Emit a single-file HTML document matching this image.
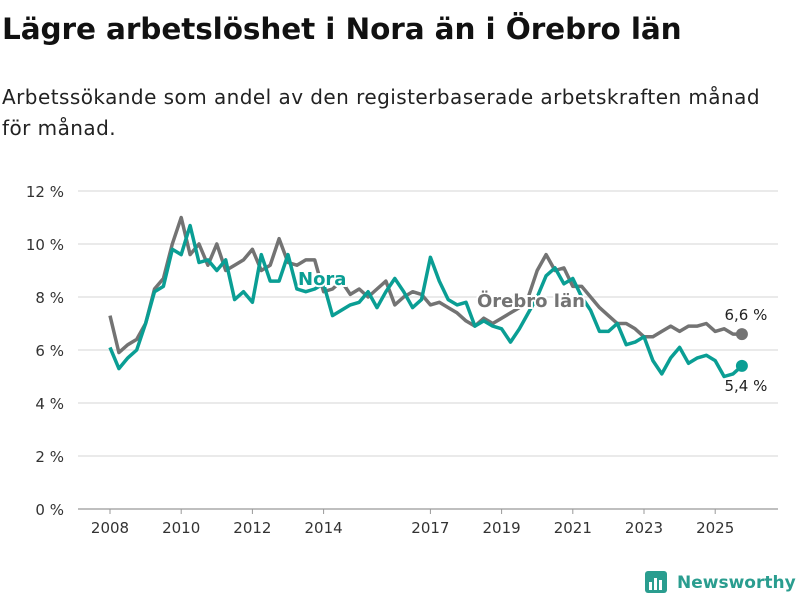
<!DOCTYPE html>
<html><head><meta charset="utf-8">
<style>
body{margin:0;background:#fff;font-family:"DejaVu Sans","Liberation Sans",sans-serif;}
#wrap{position:relative;width:800px;height:600px;overflow:hidden;}
h1{position:absolute;left:2px;top:12px;margin:0;font-size:29.5px;font-weight:bold;color:#111;letter-spacing:-0.1px;}
p.sub{position:absolute;left:2px;top:82px;margin:0;font-size:20px;letter-spacing:0.45px;line-height:31px;color:#222;width:782px;}
svg{position:absolute;left:0;top:0;}
</style></head><body>
<div id="wrap">
<h1>Lägre arbetslöshet i Nora än i Örebro län</h1>
<p class="sub">Arbetssökande som andel av den registerbaserade arbetskraften månad för månad.</p>
<svg id="chart" width="800" height="600"></svg>
</div>
<script>
const times = [];
for (let i = 0; i < 72; i++) times.push(2008 + i * 0.25);
const orebro = [7.3,5.9,6.2,6.4,7.0,8.3,8.7,10.0,11.0,9.6,10.0,9.2,10.0,9.0,9.2,9.4,9.8,9.0,9.2,10.2,9.3,9.2,9.4,9.4,8.2,8.3,8.6,8.1,8.3,8.0,8.3,8.6,7.7,8.0,8.2,8.1,7.7,7.8,7.6,7.4,7.1,6.9,7.2,7.0,7.2,7.4,7.6,8.0,9.0,9.6,9.0,9.1,8.4,8.4,8.0,7.6,7.3,7.0,7.0,6.8,6.5,6.5,6.7,6.9,6.7,6.9,6.9,7.0,6.7,6.8,6.6,6.6];
const nora = [6.1,5.3,5.7,6.0,7.0,8.2,8.4,9.8,9.6,10.7,9.3,9.4,9.0,9.4,7.9,8.2,7.8,9.6,8.6,8.6,9.6,8.3,8.2,8.3,8.5,7.3,7.5,7.7,7.8,8.2,7.6,8.2,8.7,8.2,7.6,7.9,9.5,8.6,7.9,7.7,7.8,6.9,7.1,6.9,6.8,6.3,6.8,7.4,8.0,8.8,9.1,8.5,8.7,8.0,7.5,6.7,6.7,7.0,6.2,6.3,6.5,5.6,5.1,5.7,6.1,5.5,5.7,5.8,5.6,5.0,5.1,5.4];
const yTicks = [0,2,4,6,8,10,12];
const yTickLabels = ["0 %","2 %","4 %","6 %","8 %","10 %","12 %"];
const xTicks = [2008,2010,2012,2014,2017,2019,2021,2023,2025];
const xTickLabels = ["2008","2010","2012","2014","2017","2019","2021","2023","2025"];
const endLabels = ["6,6 %","5,4 %"];

const NS = "http://www.w3.org/2000/svg";
const svg = document.getElementById('chart');
const X = t => 110 + (t - 2008) * 35.6;
const Y = v => 509 - v * 26.5;
function mk(tag, attrs, parent){const e=document.createElementNS(NS,tag);for(const k in attrs)e.setAttribute(k,attrs[k]);(parent||svg).appendChild(e);return e;}

yTicks.forEach((v,i)=>{
  const l=mk('line',{x1:78,x2:778,y1:Y(v),y2:Y(v),stroke:v===0?'#999':'#ddd','stroke-width':1.3});
  
  
  const t=mk('text',{x:64,y:Y(v)+6,'text-anchor':'end','font-size':15,fill:'#333'});
  t.textContent=yTickLabels[i];
  
  
});
xTicks.forEach((v,i)=>{
  const l=mk('line',{x1:X(v),x2:X(v),y1:509,y2:514,stroke:'#999','stroke-width':1});
  
  
  const t=mk('text',{x:X(v),y:533,'text-anchor':'middle','font-size':15,fill:'#333'});
  t.textContent=xTickLabels[i];
  
  
});
function line(data,color,name){
  const d=data.map((v,i)=>(i?'L':'M')+X(times[i]).toFixed(1)+','+Y(v).toFixed(1)).join(' ');
  const p=mk('path',{d:d,fill:'none',stroke:color,'stroke-width':3.5,'stroke-linejoin':'round'});
  
  
  const n=data.length-1;
  const c=mk('circle',{cx:X(times[n]),cy:Y(data[n]),r:6,fill:color});
  
  
}
line(orebro,'#737373','orebro-line');
line(nora,'#0a9e94','nora-line');
const n=times.length-1;
const e1=mk('text',{x:X(times[n])+4,y:Y(orebro[n])-14,'text-anchor':'middle','font-size':15,fill:'#222'});
e1.textContent=endLabels[0];


const e2=mk('text',{x:X(times[n])+4,y:Y(nora[n])+25,'text-anchor':'middle','font-size':15,fill:'#222'});
e2.textContent=endLabels[1];


const l1=mk('text',{x:298,y:285,'font-size':18,'font-weight':'bold',fill:'#0a9e94',stroke:'#fff','stroke-width':4,'paint-order':'stroke'});
l1.textContent='Nora';


const l2=mk('text',{x:477,y:307,'font-size':18,'font-weight':'bold',fill:'#737373',stroke:'#fff','stroke-width':4,'paint-order':'stroke'});
l2.textContent='Örebro län';


// logo
const g=mk('g',{});


mk('rect',{x:645,y:571,width:22,height:22,rx:3,fill:'#2a9d8f'},g);
mk('rect',{x:649,y:582,width:3,height:8,fill:'#fff'},g);
mk('rect',{x:654,y:578,width:3,height:12,fill:'#fff'},g);
mk('rect',{x:659,y:580,width:3,height:10,fill:'#fff'},g);
const lt=mk('text',{x:677,y:588,'font-size':17,'font-weight':'bold',fill:'#2a9d8f'},g);
lt.textContent='Newsworthy';
</script>
</body></html>
